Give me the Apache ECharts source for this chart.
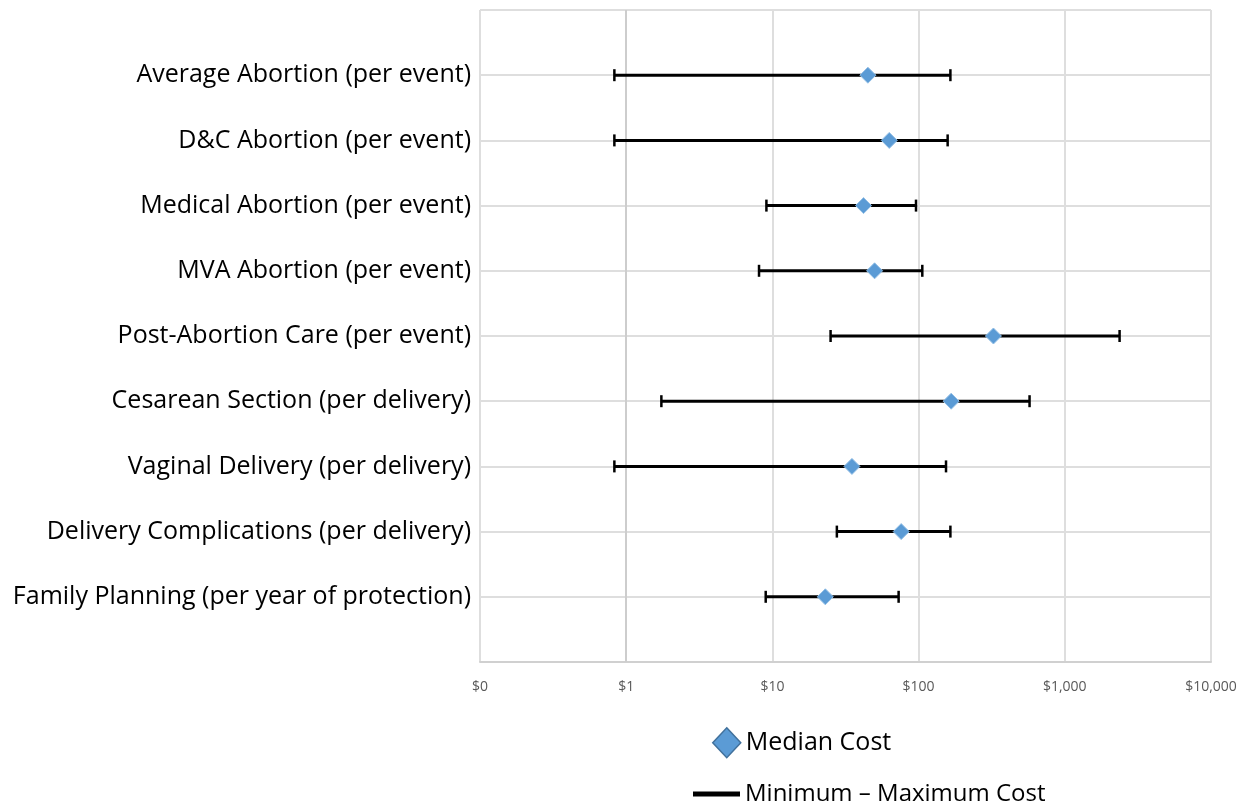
<!DOCTYPE html>
<html>
<head>
<meta charset="utf-8">
<script src="https://cdn.jsdelivr.net/npm/echarts@6/dist/echarts.min.js"></script>
<style>
  html, body { margin: 0; padding: 0; background: #ffffff; }
  #chart { width: 1242px; height: 808px; }
</style>
</head>
<body>
<div id="chart"></div>
<script>
// Service cost ranges, listed top to bottom
const categories = [
  'Average Abortion (per event)',
  'D&C Abortion (per event)',
  'Medical Abortion (per event)',
  'MVA Abortion (per event)',
  'Post-Abortion Care (per event)',
  'Cesarean Section (per delivery)',
  'Vaginal Delivery (per delivery)',
  'Delivery Complications (per delivery)',
  'Family Planning (per year of protection)'
];
const medianCost = [45, 63, 42, 50, 325, 167, 35, 76, 23];
const minCost    = [0.83, 0.83, 9.1, 8.1, 25, 1.74, 0.83, 27.6, 9.0];
const maxCost    = [165, 158, 96, 106, 2370, 574, 154, 165, 73];
const xTickLabels = ['$0', '$1', '$10', '$100', '$1,000', '$10,000'];

const FONT = '"Open Sans", sans-serif';
const GRID_COLOR = '#dedede';

// Rows sit on integer positions of the vertical value axis: first row at the top
const rowPos = i => categories.length - i;

const rangeData = categories.map((c, i) => [minCost[i], maxCost[i], rowPos(i)]);
const medianData = categories.map((c, i) => [medianCost[i], rowPos(i)]);

function renderRange(params, api) {
  const y = api.value(2);
  const a = api.coord([api.value(0), y]);
  const b = api.coord([api.value(1), y]);
  const capH = 6;
  const capStyle = { stroke: '#000000', lineWidth: 2.5 };
  return {
    type: 'group',
    children: [
      { type: 'line', shape: { x1: a[0], y1: a[1], x2: b[0], y2: b[1] }, style: { stroke: '#000000', lineWidth: 3 } },
      { type: 'line', shape: { x1: a[0], y1: a[1] - capH, x2: a[0], y2: a[1] + capH }, style: capStyle },
      { type: 'line', shape: { x1: b[0], y1: b[1] - capH, x2: b[0], y2: b[1] + capH }, style: capStyle }
    ]
  };
}

const chart = echarts.init(document.getElementById('chart'), null, { renderer: 'canvas' });

chart.setOption({
  animation: false,
  backgroundColor: '#ffffff',
  grid: { left: 480, right: 31, top: 10, bottom: 146, containLabel: false },
  xAxis: {
    type: 'log',
    logBase: 10,
    min: 0.1,
    max: 10000,
    axisLine: { show: true, lineStyle: { color: '#d0d0d0', width: 2 } },
    axisTick: { show: false },
    minorTick: { show: false },
    splitLine: { show: true, lineStyle: { color: GRID_COLOR, width: 2 } },
    axisLabel: {
      margin: 18,
      color: '#595959',
      fontFamily: FONT,
      fontSize: 14,
      formatter: v => {
        const idx = Math.round(Math.log10(v)) + 1;
        return xTickLabels[idx] !== undefined ? xTickLabels[idx] : '';
      }
    }
  },
  yAxis: {
    type: 'value',
    min: 0,
    max: 10,
    interval: 1,
    axisLine: { show: false },
    axisTick: { show: false },
    splitLine: { show: true, lineStyle: { color: GRID_COLOR, width: 2 } },
    axisLabel: {
      margin: 9,
      color: '#000000',
      fontFamily: FONT,
      fontSize: 25,
      formatter: v => {
        const idx = categories.length - v;
        return (v >= 1 && v <= categories.length) ? categories[idx] : '';
      }
    }
  },
  legend: [
    {
      data: [{
        name: 'Median Cost',
        icon: 'diamond',
        itemStyle: { color: '#5b9bd5', borderColor: '#41719c', borderWidth: 1.5 }
      }],
      left: 707,
      top: 722,
      itemWidth: 28,
      itemHeight: 30,
      selectedMode: false,
      textStyle: { color: '#000000', fontFamily: FONT, fontSize: 25 }
    },
    {
      data: [{
        name: 'Minimum – Maximum Cost',
        icon: 'rect',
        itemStyle: { color: '#000000', borderWidth: 0 }
      }],
      left: 688,
      top: 777,
      itemWidth: 47,
      itemHeight: 5,
      selectedMode: false,
      textStyle: { color: '#000000', fontFamily: FONT, fontSize: 24 }
    }
  ],
  series: [
    {
      // vertical axis crossing line at $1, drawn beneath the ranges
      name: 'axis-cross',
      type: 'scatter',
      data: [],
      silent: true,
      z: 0,
      markLine: {
        silent: true,
        symbol: 'none',
        label: { show: false },
        lineStyle: { color: '#cdcdcd', width: 2, type: 'solid' },
        data: [{ xAxis: 1 }]
      }
    },
    {
      name: 'Minimum – Maximum Cost',
      type: 'custom',
      renderItem: renderRange,
      encode: { x: [0, 1], y: 2 },
      data: rangeData,
      itemStyle: { color: '#000000' },
      z: 10
    },
    {
      name: 'Median Cost',
      type: 'scatter',
      data: medianData,
      symbol: 'diamond',
      symbolSize: 16,
      itemStyle: {
        color: '#5b9bd5',
        borderColor: '#93bfe6',
        borderWidth: 1,
        opacity: 1
      },
      z: 11
    }
  ]
});
</script>
</body>
</html>
